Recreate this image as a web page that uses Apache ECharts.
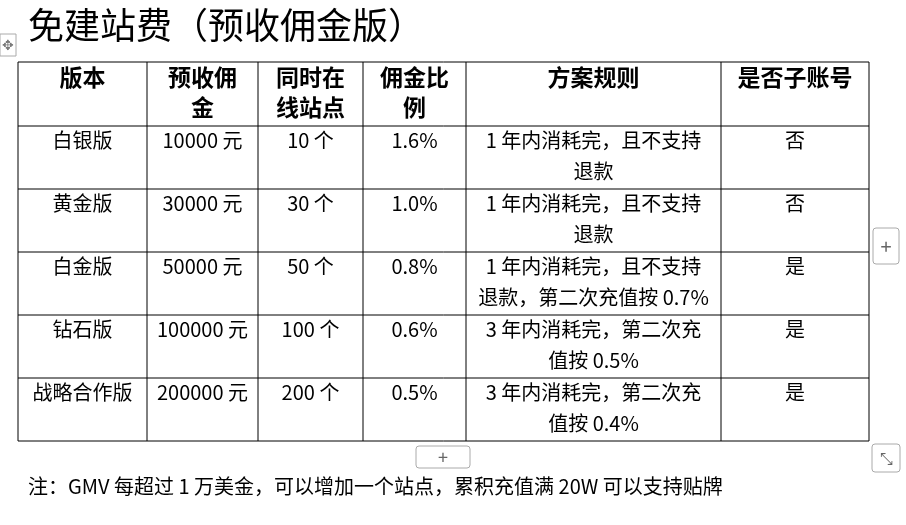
<!DOCTYPE html>
<html><head><meta charset="utf-8">
<script src="https://cdn.jsdelivr.net/npm/echarts@6/dist/echarts.min.js"></script>
<style>html,body{margin:0;padding:0;background:#fff}#c{width:906px;height:525px}</style>
</head><body><div id="c"></div>
<script>
const title = '免建站费（预收佣金版）';
const headers = ['版本', '预收佣\n金', '同时在\n线站点', '佣金比\n例', '方案规则', '是否子账号'];
const versions = ['白银版', '黄金版', '白金版', '钻石版', '战略合作版'];
const prepay = ['10000 元', '30000 元', '50000 元', '100000 元', '200000 元'];
const sites = ['10 个', '30 个', '50 个', '100 个', '200 个'];
const rates = ['1.6%', '1.0%', '0.8%', '0.6%', '0.5%'];
const rules = ['1 年内消耗完，且不支持\n退款', '1 年内消耗完，且不支持\n退款', '1 年内消耗完，且不支持\n退款，第二次充值按 0.7%', '3 年内消耗完，第二次充\n值按 0.5%', '3 年内消耗完，第二次充\n值按 0.4%'];
const subAccount = ['否', '否', '是', '是', '是'];
const note = '注：GMV 每超过 1 万美金，可以增加一个站点，累积充值满 20W 可以支持贴牌';

const colX = [18, 147, 258, 363, 466, 721, 869];
const rowY = [62, 126, 189, 252, 315, 378, 441];
const font = '"Noto Sans CJK SC", "Noto Sans", sans-serif';
const g = [];
g.push({type:'text', left:28, top:7, style:{text:title, font:'normal 36px '+font, fill:'#000'}});
for (const y of rowY) g.push({type:'line', shape:{x1:colX[0], y1:y, x2:colX[6], y2:y}, style:{stroke:'#000', lineWidth:1}});
for (const x of colX) g.push({type:'line', shape:{x1:x, y1:rowY[0], x2:x, y2:rowY[6]}, style:{stroke:'#000', lineWidth:1}});
function cell(ci, ri, txt, bold) {
  g.push({type:'text', x:(colX[ci]+colX[ci+1])/2, y:rowY[ri]+(bold?0:-1),
    style:{text:txt, font:(bold?'bold 23px ':'normal 20px ')+font, fill:'#000', align:'center', verticalAlign:'top', lineHeight: bold?30:31}});
}
headers.forEach((h,i)=>cell(i,0,h,true));
const cols = [versions, prepay, sites, rates, rules, subAccount];
cols.forEach((col,ci)=>col.forEach((v,ri)=>cell(ci,ri+1,v,false)));
g.push({type:'text', left:28, top:476, style:{text:note, font:'normal 20px '+font, fill:'#000'}});
g.push({type:'rect', shape:{x:0,y:34,width:16,height:22}, style:{fill:'#fff', stroke:'#aaa'}});
g.push({type:'text', x:8, y:45, style:{text:'✥', font:'14px '+font, fill:'#777', align:'center', verticalAlign:'middle'}});
g.push({type:'rect', shape:{x:873,y:228,width:26,height:36,r:3}, style:{fill:'#fff', stroke:'#aaa'}});
g.push({type:'text', x:886, y:246, style:{text:'+', font:'20px '+font, fill:'#666', align:'center', verticalAlign:'middle'}});
g.push({type:'rect', shape:{x:416,y:446,width:54,height:22,r:3}, style:{fill:'#fff', stroke:'#aaa'}});
g.push({type:'text', x:443, y:457, style:{text:'+', font:'18px '+font, fill:'#666', align:'center', verticalAlign:'middle'}});
g.push({type:'rect', shape:{x:872,y:444,width:28,height:28,r:3}, style:{fill:'#fff', stroke:'#aaa'}});
g.push({type:'text', x:886, y:458, style:{text:'⤡', font:'16px '+font, fill:'#666', align:'center', verticalAlign:'middle'}});

const chart = echarts.init(document.getElementById('c'));
chart.setOption({backgroundColor:'#fff', animation:false, graphic:{elements:g}});
</script></body></html>
